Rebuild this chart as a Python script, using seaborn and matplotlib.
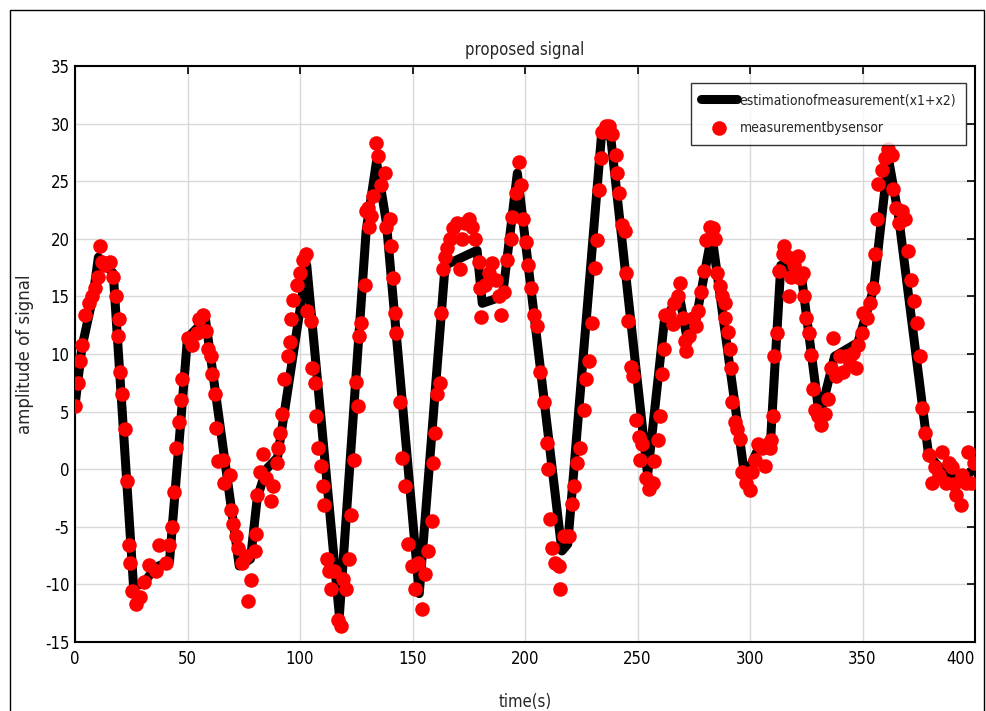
import numpy as np
import pandas as pd
import matplotlib
matplotlib.use("Agg")
import matplotlib.pyplot as plt
import seaborn as sns
from matplotlib.patches import Rectangle

# === Data ===
time_meas = [0, 1.5, 2.2, 3.3, 4.5, 6, 7.5, 9, 10, 11, 12, 13.4, 15.7, 17, 18, 19, 19.4,
             20, 21, 22, 23, 24, 24.6, 25.4, 27, 29, 30.6, 32.8, 35.8, 37.3, 40.3, 41.8, 43.3,
             44, 44.8, 46, 47, 47.5, 50, 52, 54, 55, 57, 58, 59, 60.4, 61, 62, 62.7, 63.4,
             65.7, 66.4, 68.7, 69.4, 70, 71.6, 72.4, 74, 76, 77, 78, 80, 80.6, 81, 82, 83.6,
             85, 87, 88, 89.6, 90, 91, 92, 93, 94.8, 95.5, 96, 97, 98.5, 100, 101.5, 102.7,
             103.3, 104.8, 105.5, 106.7, 107.3, 108.2, 109.3, 110, 110.7, 111.8, 112.7, 113.7,
             115.2, 116.7, 118.2, 119, 120.4, 121.6, 122.7, 124.2, 125, 125.7, 126.4, 127.2,
             128.7, 129.2, 130.2, 130.8, 131.7, 132.4, 133.9, 134.6, 136, 137.6, 138.4, 139.9,
             140.6, 141.3, 142, 142.8, 144.3, 145.5, 146.6, 148, 149.6, 151, 152.5, 154, 155.5,
             157, 158.5, 159.3, 160, 160.7, 162, 162.5, 163.4, 164.5, 165.2, 166.7, 168.2,
             169.6, 171, 171.9, 173.4, 174.9, 176.4, 177.9, 179.4, 180, 180.6, 182.4, 183.9,
             185.4, 186.9, 188.4, 189.4, 190.6, 192, 193.6, 194.3, 195.8, 197.3, 198.2, 199,
             200.3, 201.3, 202.5, 204, 205.2, 206.7, 208.5, 209.7, 210.4, 211.2, 212, 213.4,
             215, 215.7, 217.2, 219.4, 221, 221.6, 223, 224.6, 226, 226.9, 228.4, 229.9, 231.3,
             231.8, 232.8, 233.6, 234.3, 235.8, 237.3, 238.8, 240.3, 241, 241.8, 243.3, 244.3,
             244.8, 245.8, 247, 248.2, 249.3, 250.7, 251.2, 252.2, 253.7, 255.2, 256.7, 257.5,
             259, 260.1, 260.7, 261.6, 262.2, 264.2, 265.7, 266.4, 267.9, 269.1, 270.1, 271.2,
             271.6, 273.1, 274.6, 276.1, 276.9, 278.4, 279.6, 280.6, 282.1, 283.6, 284.3, 285.5,
             286.6, 287.6, 288.8, 289.1, 290.3, 291, 291.5, 292, 293.3, 294, 295.5, 296.6, 298,
             300, 300.7, 302.2, 303.7, 305.2, 306.7, 307.8, 308.9, 309.3, 310, 310.7, 312.2,
             313, 314.5, 315.2, 316.7, 317.5, 318.2, 319.7, 321.2, 322, 323.4, 324.2, 325,
             326.4, 327.2, 328, 328.7, 330.2, 331.7, 333.2, 334.6, 336.1, 336.9, 338.4, 339.9,
             341.3, 342.8, 344.3, 345.8, 347.3, 348, 349.6, 350.3, 351.8, 353.3, 354.8, 355.5,
             356.3, 357, 358.5, 360, 361.5, 363, 363.7, 364.8, 366, 367.5, 369, 370.4, 371.6,
             372.7, 374.2, 375.7, 376.4, 377.6, 379.4, 380.9, 382.4, 383.9, 385.4, 386.9, 388.4,
             389.8, 390.6, 391.6, 393.6, 394.3, 395.8, 397, 398, 399.5]
amp_meas = [5.5, 7.5, 9.4, 10.8, 13.4, 14.4, 15, 15.7, 16.7, 19.4, 18, 17.7, 18, 16.7, 15, 11.6, 13,
            8.4, 6.5, 3.5, -1, -6.6, -8.1, -10.6, -11.7, -11.1, -9.8, -8.3, -8.8, -6.6, -8.1, -6.6, -5,
            -2, 1.8, 4.1, 6, 7.8, 11.4, 10.8, 11.8, 13, 13.4, 12, 10.4, 9.8, 8.3, 6.5, 3.6, 0.7,
            0.8, -1.2, -0.5, -3.5, -4.8, -5.8, -6.8, -8.1, -7.5, -11.4, -9.6, -7.1, -5.6, -2.2, -0.2, 1.3,
            -0.8, -2.8, -1.5, 0.5, 1.8, 3.1, 4.8, 7.8, 9.8, 11, 13, 14.7, 16, 17, 18.2, 18.7,
            13.7, 12.9, 8.8, 7.5, 4.6, 1.8, 0.3, -1.5, -3.1, -7.8, -8.8, -10.4,
            -8.8, -13.1, -13.6, -9.5, -10.4, -7.8, -4, 0.8, 7.6, 5.5, 11.6, 12.7,
            16, 22.4, 22.7, 21, 22, 23.7, 28.3, 27.2, 24.7, 25.7, 21, 21.7,
            19.4, 16.6, 13.6, 11.8, 5.8, 1, -1.5, -6.5, -8.4, -10.4, -8.1, -12.1, -9.1,
            -7.1, -4.5, 0.5, 3.1, 6.5, 7.5, 13.6, 17.4, 18.4, 19.2, 20, 20.9,
            21.4, 17.4, 20, 21.4, 21.7, 21, 20, 18, 15.7, 13.2, 16, 17,
            17.9, 16.4, 15, 13.4, 15.4, 18.2, 20, 21.9, 24, 26.7, 24.7, 21.7,
            19.7, 17.7, 15.7, 13.4, 12.4, 8.4, 5.8, 2.3, 0, -4.3, -6.8, -8.1,
            -8.4, -10.4, -5.8, -5.8, -3, -1.5, 0.5, 1.8, 5.1, 7.8, 9.4, 12.7, 17.5,
            19.9, 24.2, 27, 29.3, 29.8, 29.8, 29.1, 27.3, 25.7, 24, 21.2, 20.7,
            17, 12.9, 8.9, 8.1, 4.3, 2.8, 0.8, 2.2, -0.8, -1.7, -1.2, 0.7,
            2.5, 4.6, 8.3, 10.4, 13.4, 13.4, 12.6, 14.4, 15, 16.2, 13.1, 11.1,
            10.3, 11.6, 13.1, 12.4, 13.7, 15.4, 17.2, 19.9, 21, 20.9, 20, 17,
            15.9, 15, 14.4, 13.1, 11.9, 10.4, 8.8, 5.8, 4.1, 3.5, 2.6, -0.2, -1.2,
            -1.8, -0.2, 0.8, 2.2, 1.8, 0.3, 2.2, 1.8, 2.5, 4.6, 9.8, 11.8,
            17.2, 18.7, 19.4, 18.4, 15, 16.7, 17.7, 18.5, 16.6, 17, 15, 13.1,
            11.8, 9.9, 7, 5.1, 4.6, 3.8, 4.8, 6.1, 8.8, 11.4, 8.1, 9.8,
            8.4, 9.8, 9.1, 10.1, 8.8, 10.8, 11.8, 13.6, 13.1, 14.4, 15.7, 18.7,
            21.7, 24.8, 26, 27, 27.8, 27.3, 24.3, 22.7, 21.4, 22.4, 21.7, 18.9, 16.4,
            14.6, 12.7, 9.8, 5.3, 3.1, 1.2, -1.2, 0.2, -0.5, 1.5, -1.2, 0.5,
            0.2, -1.3, -2.2, -3.1, -0.5, -1.2, 1.5, -1.2, 0.5]

time_est = [0, 3, 8, 10.4, 17, 26, 30, 36, 42, 50, 58, 73, 78, 81, 85, 90, 103, 117.5,
            129.4, 134, 138.4, 153, 164.5, 178.7, 181, 190, 196.6, 216.4, 219, 234, 238,
            254.5, 262, 268.7, 271.6, 276, 283, 297.8, 303, 309, 313.7, 322.7, 330.9,
            337.6, 348, 355, 361.5, 366, 379.4, 385, 392, 400]
amp_est = [5.5, 10.5, 15, 18.4, 17, -10.1, -10, -8.5, -8, 11.4, 13, -8.4, -7.8, -2.5, 0, 1, 17.7, -12.7,
           20.7, 26.7, 21.4, -10.8, 17.7, 19, 14.4, 15, 25.7, -7.1, -6.5, 29, 29,
           -0.5, 13, 15, 11.8, 13, 20.4, -0.8, 1.5, 2, 17.7, 17, 4.5,
           9.8, 11, 15.7, 27, 22, 1.2, 0, -1, 0]

x_ticks = [0, 50, 100, 150, 200, 250, 300, 350, 400]
y_ticks = [-15, -10, -5, 0, 5, 10, 15, 20, 25, 30, 35]

meas = pd.DataFrame({"time": time_meas, "amp": amp_meas})
est = pd.DataFrame({"time": time_est, "amp": amp_est})

# === Plot ===
sns.set_style("white")
narrow = ["Liberation Sans Narrow", "DejaVu Sans"]

fig = plt.figure(figsize=(9.86, 7.11), dpi=100)
ax = fig.add_axes([75 / 986, 1 - 642 / 711, 900 / 986, 576 / 711])

sns.lineplot(data=est, x="time", y="amp", ax=ax, color="black", linewidth=6.5,
             sort=False, label="estimationofmeasurement(x1+x2)", zorder=2)
sns.scatterplot(data=meas, x="time", y="amp", ax=ax, color="red", s=110,
                edgecolor="red", linewidth=0, label="measurementbysensor", zorder=3)

ax.set_xlim(0, 400)
ax.set_ylim(-15, 35)
ax.set_xticks(x_ticks)
ax.set_yticks(y_ticks)
ax.set_xticklabels([str(t) for t in x_ticks], family=narrow, fontsize=12, stretch="condensed")
ax.set_yticklabels([str(t) for t in y_ticks], family=narrow, fontsize=12, stretch="condensed")
ax.get_xticklabels()[-1].set_horizontalalignment("right")
ax.tick_params(direction="in", top=True, right=True, length=6, width=1.2, colors="black", pad=6)
ax.tick_params(axis="y", pad=4)
ax.grid(True, color="#d9d9d9", linewidth=1)
ax.set_axisbelow(True)
for sp in ax.spines.values():
    sp.set_color("black")
    sp.set_linewidth(1.5)

ax.set_title("proposed signal", family=narrow, fontsize=12, stretch="condensed", pad=8)
ax.set_xlabel("time(s)", family=narrow, fontsize=12, stretch="condensed", labelpad=18)
ax.set_ylabel("amplitude of signal", fontsize=12)
ax.yaxis.set_label_coords(-0.045, 0.5)

leg = ax.legend(loc="upper right", bbox_to_anchor=(0.99, 0.97), frameon=True, fancybox=False,
                prop={"family": narrow, "size": 10, "stretch": "condensed"}, handlelength=2.6,
                borderpad=0.7, labelspacing=1.0, handletextpad=0.2, borderaxespad=0)
leg.get_frame().set_edgecolor("black")
leg.get_frame().set_linewidth(1)

# figure border
fig.patches.append(Rectangle((10 / 986, -0.05), 974 / 986, 1.05 - 10 / 711, transform=fig.transFigure,
                             fill=False, edgecolor="black", linewidth=1))

fig.savefig("out.png", dpi=100)
